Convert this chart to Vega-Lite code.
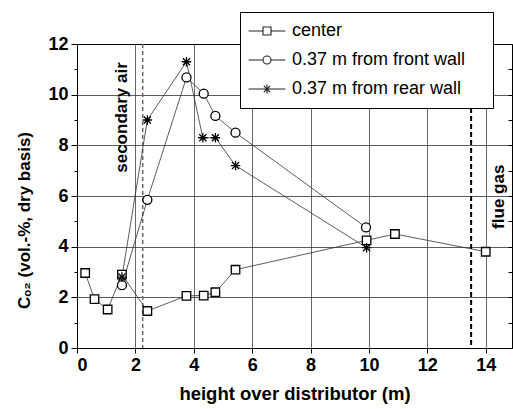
{
  "$schema": "https://vega.github.io/schema/vega-lite/v6.json",
  "autosize": "none",
  "padding": {"left": 77, "top": 44, "right": 1, "bottom": 61},
  "width": 435,
  "height": 304,
  "background": "white",
  "config": {
    "font": "Liberation Sans",
    "view": {"stroke": "black", "strokeWidth": 1},
    "axisLeft": {"titleX": -44, "titleY": 176}
  },
  "datasets": {
    "meas": [
      {"series": "center", "h": 0.28, "c": 2.96},
      {"series": "center", "h": 0.6, "c": 1.93},
      {"series": "center", "h": 1.05, "c": 1.52},
      {"series": "center", "h": 1.54, "c": 2.9},
      {"series": "center", "h": 2.41, "c": 1.46},
      {"series": "center", "h": 3.75, "c": 2.06},
      {"series": "center", "h": 4.34, "c": 2.07},
      {"series": "center", "h": 4.74, "c": 2.2},
      {"series": "center", "h": 5.43, "c": 3.09},
      {"series": "center", "h": 9.92, "c": 4.25},
      {"series": "center", "h": 10.89, "c": 4.5},
      {"series": "center", "h": 14.0, "c": 3.8},
      {"series": "0.37 m from front wall", "h": 1.54, "c": 2.48},
      {"series": "0.37 m from front wall", "h": 2.41, "c": 5.85},
      {"series": "0.37 m from front wall", "h": 3.75, "c": 10.68},
      {"series": "0.37 m from front wall", "h": 4.34, "c": 10.04},
      {"series": "0.37 m from front wall", "h": 4.74, "c": 9.16},
      {"series": "0.37 m from front wall", "h": 5.43, "c": 8.5},
      {"series": "0.37 m from front wall", "h": 9.9, "c": 4.76},
      {"series": "0.37 m from rear wall", "h": 1.54, "c": 2.8},
      {"series": "0.37 m from rear wall", "h": 2.41, "c": 9.0},
      {"series": "0.37 m from rear wall", "h": 3.75, "c": 11.3},
      {"series": "0.37 m from rear wall", "h": 4.31, "c": 8.3},
      {"series": "0.37 m from rear wall", "h": 4.74, "c": 8.3},
      {"series": "0.37 m from rear wall", "h": 5.43, "c": 7.2},
      {"series": "0.37 m from rear wall", "h": 9.92, "c": 3.96}
    ],
    "marks": [
      {"kind": "secondary air", "h": 2.25},
      {"kind": "flue gas", "h": 13.5}
    ],
    "notes": [
      {"label": "secondary air", "h": 1.55, "c": 9.1},
      {"label": "flue gas", "h": 14.44, "c": 5.97}
    ]
  },
  "layer": [
    {
      "data": {"name": "marks"},
      "transform": [{"filter": "datum.kind == 'secondary air'"}],
      "mark": {"type": "rule", "color": "#666", "strokeWidth": 1.5, "strokeDash": [4, 3]},
      "encoding": {
        "x": {
          "field": "h", "type": "quantitative",
          "scale": {"domain": [0, 14.9], "nice": false, "zero": false},
          "axis": {
            "title": "height over distributor (m)",
            "values": [0, 1, 2, 3, 4, 5, 6, 7, 8, 9, 10, 11, 12, 13, 14],
            "labelExpr": "datum.value % 2 == 0 ? datum.label : ''",
            "labelFont": "Liberation Sans", "labelFontSize": 18, "labelFontWeight": "bold", "labelColor": "black",
            "labelPadding": 3,
            "titleFont": "Liberation Sans", "titleFontSize": 18.5, "titleFontWeight": "bold", "titleColor": "black",
            "titlePadding": 10,
            "domain": true, "domainColor": "black", "domainWidth": 1,
            "ticks": true, "tickColor": "black", "tickWidth": 1,
            "tickSize": {"condition": {"test": "datum.value % 2 != 0", "value": 3}, "value": 5},
            "grid": true, "gridColor": "#444", "gridWidth": 0.8,
            "gridOpacity": {"condition": {"test": "datum.value % 2 != 0 || datum.value == 0", "value": 0}, "value": 1}
          }
        }
      }
    },
    {
      "data": {"name": "marks"},
      "transform": [{"filter": "datum.kind == 'flue gas'"}],
      "mark": {"type": "rule", "color": "black", "strokeWidth": 2, "strokeDash": [5, 3]},
      "encoding": {
        "x": {"field": "h", "type": "quantitative", "scale": {"domain": [0, 14.9], "nice": false, "zero": false}}
      }
    },
    {
      "data": {"name": "meas"},
      "mark": {"type": "line", "color": "#333", "strokeWidth": 0.8},
      "encoding": {
        "x": {"field": "h", "type": "quantitative", "scale": {"domain": [0, 14.9], "nice": false, "zero": false}},
        "y": {
          "field": "c", "type": "quantitative",
          "scale": {"domain": [0, 12], "nice": false, "zero": false},
          "axis": {
            "title": "Cₒ₂ (vol.-%, dry basis)",
            "values": [0, 1, 2, 3, 4, 5, 6, 7, 8, 9, 10, 11, 12],
            "labelExpr": "datum.value % 2 == 0 ? datum.label : ''",
            "labelFont": "Liberation Sans", "labelFontSize": 18, "labelFontWeight": "bold", "labelColor": "black",
            "labelPadding": 3,
            "titleFont": "Liberation Sans", "titleFontSize": 17, "titleFontWeight": "bold", "titleColor": "black",
            "titlePadding": 16,
            "domain": true, "domainColor": "black", "domainWidth": 1,
            "ticks": true, "tickColor": "black", "tickWidth": 1,
            "tickSize": {"condition": {"test": "datum.value % 2 != 0", "value": 3}, "value": 6},
            "grid": true, "gridColor": "#333", "gridWidth": 0.8,
            "gridOpacity": {"condition": {"test": "datum.value % 2 != 0 || datum.value == 0 || datum.value == 12", "value": 0}, "value": 1}
          }
        },
        "detail": {"field": "series"},
        "order": {"field": "h", "type": "quantitative"}
      }
    },
    {
      "data": {"name": "meas"},
      "mark": {"type": "point", "filled": false, "stroke": "black", "strokeWidth": 1.3, "opacity": 1},
      "encoding": {
        "x": {"field": "h", "type": "quantitative", "scale": {"domain": [0, 14.9], "nice": false, "zero": false}},
        "y": {
          "field": "c", "type": "quantitative",
          "scale": {"domain": [0, 12], "nice": false, "zero": false},
          "axis": {
            "orient": "right", "title": null, "labels": false, "domain": false, "grid": false,
            "values": [0, 1, 2, 3, 4, 5, 6, 7, 8, 9, 10, 11, 12],
            "ticks": true, "tickColor": "black", "tickWidth": 1,
            "tickSize": -4
          }
        },
        "shape": {
          "field": "series", "type": "nominal",
          "scale": {
            "domain": ["center", "0.37 m from front wall", "0.37 m from rear wall"],
            "range": ["square", "circle", "M-1,0H1M0,-1V1M-0.75,-0.75L0.75,0.75M-0.75,0.75L0.75,-0.75"]
          },
          "legend": null
        },
        "size": {
          "field": "series", "type": "nominal",
          "scale": {
            "domain": ["center", "0.37 m from front wall", "0.37 m from rear wall"],
            "range": [72, 90, 130]
          },
          "legend": null
        },
        "fill": {
          "field": "series", "type": "nominal",
          "scale": {
            "domain": ["center", "0.37 m from front wall", "0.37 m from rear wall"],
            "range": ["white", "white", "transparent"]
          },
          "legend": null
        }
      }
    },
    {
      "data": {"name": "meas"},
      "mark": {"type": "point", "filled": false, "stroke": "black", "size": 64, "opacity": 0},
      "encoding": {
        "x": {"field": "h", "type": "quantitative", "scale": {"domain": [0, 14.9], "nice": false, "zero": false}},
        "y": {"field": "c", "type": "quantitative", "scale": {"domain": [0, 12], "nice": false, "zero": false}, "axis": null},
        "shape": {
          "field": "series", "type": "nominal",
          "scale": {
            "domain": ["center", "0.37 m from front wall", "0.37 m from rear wall"],
            "range": [
              "M-4.6,0H-1M1,0H4.6M-1,-1H1V1H-1Z",
              "M-4.6,0H-1M1,0H4.6M1,0A1,1,0,1,1,-1,0A1,1,0,1,1,1,0Z",
              "M-4.6,0H4.6M0,-1.1V1.1M-0.8,-0.8L0.8,0.8M-0.8,0.8L0.8,-0.8"
            ]
          },
          "legend": {
            "orient": "none", "legendX": 163, "legendY": -32,
            "title": "\u2003",
            "titleOrient": "right",
            "titleFontSize": 18,
            "titlePadding": 18,
            "padding": 10,
            "strokeColor": "black", "fillColor": "white",
            "labelFont": "Liberation Sans", "labelFontSize": 18, "labelFontWeight": "normal", "labelColor": "black",
            "labelOffset": 16, "symbolOffset": 8, "rowPadding": 11,
            "symbolSize": 64, "symbolStrokeWidth": 1.1, "symbolOpacity": 1,
            "symbolFillColor": "white", "symbolStrokeColor": "#222",
            "labelLimit": 400
          }
        }
      }
    },
    {
      "data": {"name": "notes"},
      "mark": {"type": "text", "angle": 270, "align": "center", "baseline": "middle", "font": "Liberation Sans", "fontSize": 17, "fontWeight": "bold", "color": "black"},
      "encoding": {
        "x": {"field": "h", "type": "quantitative", "scale": {"domain": [0, 14.9], "nice": false, "zero": false}},
        "y": {"field": "c", "type": "quantitative", "scale": {"domain": [0, 12], "nice": false, "zero": false}, "axis": null},
        "text": {"field": "label"}
      }
    }
  ],
  "resolve": {
    "scale": {"shape": "independent", "fill": "independent", "size": "independent"},
    "legend": {"shape": "independent"},
    "axis": {"y": "independent"}
  }
}
